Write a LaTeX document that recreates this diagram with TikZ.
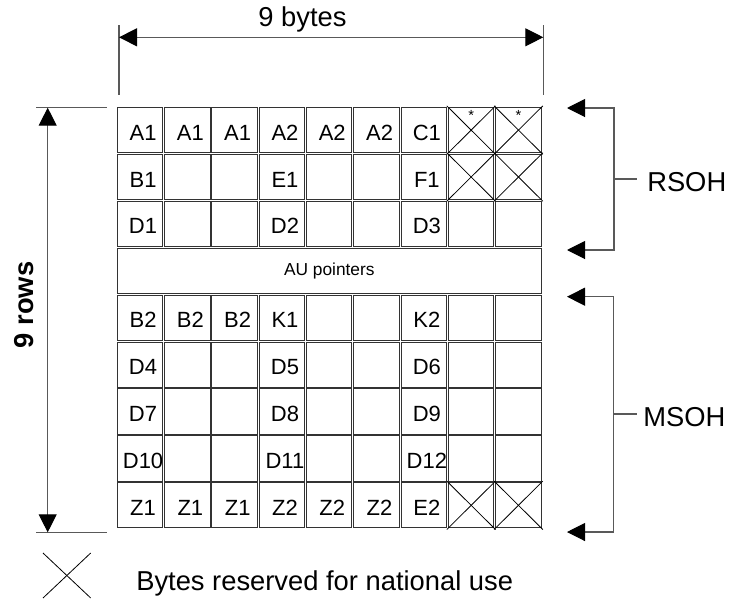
\documentclass[tikz,border=0pt]{standalone}
\usepackage{fontspec}
\setmainfont{Liberation Sans}
\usetikzlibrary{arrows.meta}

\begin{document}
\begin{tikzpicture}[x=0.75pt,y=-0.75pt,
  cellbox/.style={draw=black!80, line width=0.75pt, inner sep=0pt,
                  minimum width=34.1pt, minimum height=33.9pt},
  aubox/.style={draw=black!80, line width=0.75pt, inner sep=0pt,
                minimum width=317.9pt, minimum height=33.9pt,
                font=\fontsize{13}{15}\selectfont},
  lbl/.style={font=\fontsize{16.5}{18}\selectfont, inner sep=0pt, anchor=base},
  biglbl/.style={font=\fontsize{20.5}{24}\selectfont, inner sep=0pt},
  star/.style={font=\fontsize{11}{12}\selectfont, inner sep=0pt},
  crossline/.style={draw=black, line width=0.6pt, shorten <=-1.2pt, shorten >=-1.2pt},
  dimline/.style={draw=black!65, line width=0.8pt},
  bothheads/.style={{Triangle[length=13.5pt,width=13.5pt,fill=black,color=black]}-{Triangle[length=13.5pt,width=13.5pt,fill=black,color=black]}},
]
\useasboundingbox (0,0) rectangle (730,603);

% ---- overhead byte cells (9 columns x 9 rows, row 4 = AU pointers) ----
\foreach \r in {0,1,2,4,5,6,7,8}{
  \foreach \c in {0,...,8}{
    \node[cellbox] (cell-\r-\c) at ({117.3+\c*47.3+22.75},{107.5+\r*46.9+22.6}) {};
  }
}
\node[aubox] (au) at (329.3,{107.5+3*46.9+22.6}) {AU pointers};

% byte names, placed on the baseline inside each cell
\newcommand{\bytename}[3]{\node[lbl] (txt-#1-#2) at ([shift={(3,10)}]cell-#1-#2.center) {#3};}
\bytename{0}{0}{A1}\bytename{0}{1}{A1}\bytename{0}{2}{A1}
\bytename{0}{3}{A2}\bytename{0}{4}{A2}\bytename{0}{5}{A2}\bytename{0}{6}{C1}
\bytename{1}{0}{B1}\bytename{1}{3}{E1}\bytename{1}{6}{F1}
\bytename{2}{0}{D1}\bytename{2}{3}{D2}\bytename{2}{6}{D3}
\bytename{4}{0}{B2}\bytename{4}{1}{B2}\bytename{4}{2}{B2}
\bytename{4}{3}{K1}\bytename{4}{6}{K2}
\bytename{5}{0}{D4}\bytename{5}{3}{D5}\bytename{5}{6}{D6}
\bytename{6}{0}{D7}\bytename{6}{3}{D8}\bytename{6}{6}{D9}
\bytename{7}{0}{D10}\bytename{7}{3}{D11}\bytename{7}{6}{D12}
\bytename{8}{0}{Z1}\bytename{8}{1}{Z1}\bytename{8}{2}{Z1}
\bytename{8}{3}{Z2}\bytename{8}{4}{Z2}\bytename{8}{5}{Z2}\bytename{8}{6}{E2}

% bytes reserved for national use
\foreach \r in {0,1,8}{
  \foreach \c in {7,8}{
    \draw[crossline] (cell-\r-\c.north west) -- (cell-\r-\c.south east);
    \draw[crossline] (cell-\r-\c.south west) -- (cell-\r-\c.north east);
  }
}
\node[star] (star-7) at ([yshift=-6pt]cell-0-7.north) {*};
\node[star] (star-8) at ([yshift=-6pt]cell-0-8.north) {*};

% ---- width dimension: 9 bytes ----
\coordinate (wl-top) at (119,25);
\coordinate (wl-bot) at (119,95);
\coordinate (wr-top) at (543.3,25);
\coordinate (wr-bot) at (543.3,95);
\coordinate (wl-arr) at (119,37.3);
\coordinate (wr-arr) at (543.3,37.3);
\draw[dimline] (wl-top) -- (wl-bot);
\draw[dimline] (wr-top) -- (wr-bot);
\draw[dimline, bothheads] (wl-arr) -- (wr-arr);
\node[biglbl, anchor=base] (bytes) at (302.5,26.7) {9 bytes};

% ---- height dimension: 9 rows ----
\coordinate (ht-a) at (36,107.7);
\coordinate (ht-b) at (107,107.7);
\coordinate (hb-a) at (36,532.3);
\coordinate (hb-b) at (107,532.3);
\coordinate (hv-top) at (47.7,107.7);
\coordinate (hv-bot) at (47.7,532.3);
\draw[dimline] (ht-a) -- (ht-b);
\draw[dimline] (hb-a) -- (hb-b);
\draw[dimline, bothheads] (hv-top) -- (hv-bot);
\node[biglbl, font=\fontsize{20.5}{24}\selectfont\bfseries, rotate=90, anchor=base] (rows) at (33,305) {9 rows};

% ---- RSOH bracket ----
\coordinate (rs-t-tip) at (567,108);
\coordinate (rs-t) at (614,108);
\coordinate (rs-b) at (614,250);
\coordinate (rs-b-tip) at (567,250);
\coordinate (rs-m) at (614,179);
\coordinate (rs-m-end) at (637,179);
\draw[dimline, bothheads] (rs-t-tip) -- (rs-t) -- (rs-b) -- (rs-b-tip);
\draw[dimline] (rs-m) -- (rs-m-end);
\node[biglbl, anchor=base west] (rsoh) at (647,191.7) {RSOH};

% ---- MSOH bracket ----
\coordinate (ms-t-tip) at (567,296.7);
\coordinate (ms-t) at (613.5,296.7);
\coordinate (ms-b) at (613.5,532);
\coordinate (ms-b-tip) at (567,532);
\coordinate (ms-m) at (613.5,414);
\coordinate (ms-m-end) at (637,414);
\draw[dimline, bothheads] (ms-t-tip) -- (ms-t) -- (ms-b) -- (ms-b-tip);
\draw[dimline] (ms-m) -- (ms-m-end);
\node[biglbl, anchor=base west] (msoh) at (643,426.7) {MSOH};

% ---- legend ----
\coordinate (lx-a) at (43,553);
\coordinate (lx-b) at (90.7,598);
\coordinate (lx-c) at (43,598);
\coordinate (lx-d) at (90.7,553);
\draw[line width=0.6pt] (lx-a) -- (lx-b);
\draw[line width=0.6pt] (lx-c) -- (lx-d);
\node[biglbl, anchor=base west] (legend) at (136,590) {Bytes reserved for national use};
\end{tikzpicture}
\end{document}
